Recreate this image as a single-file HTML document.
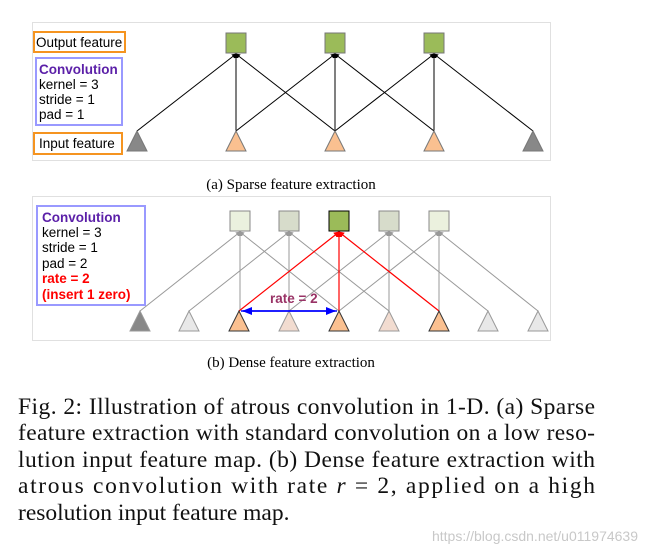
<!DOCTYPE html>
<html><head><style>
body{margin:0;background:#fff;}
svg{display:block;}
.s{font-family:"Liberation Sans",sans-serif;font-size:13.5px;}
.serif{font-family:"Liberation Serif",serif;}
</style></head><body>
<svg width="647" height="554" viewBox="0 0 647 554" xmlns="http://www.w3.org/2000/svg">
<defs>
<marker id="ak" markerWidth="5" markerHeight="5" refX="4" refY="2.5" orient="auto" markerUnits="userSpaceOnUse"><path d="M0,0 L5,2.5 L0,5 z" fill="#000"/></marker>
<marker id="ag" markerWidth="5" markerHeight="5" refX="4" refY="2.5" orient="auto" markerUnits="userSpaceOnUse"><path d="M0,0 L5,2.5 L0,5 z" fill="#999"/></marker>
<marker id="ar" markerWidth="6" markerHeight="6" refX="5" refY="3" orient="auto" markerUnits="userSpaceOnUse"><path d="M0,0 L6,3 L0,6 z" fill="#f00"/></marker>
<marker id="ab" markerWidth="10" markerHeight="8" refX="9" refY="4" orient="auto" markerUnits="userSpaceOnUse"><path d="M0,0 L10,4 L0,8 z" fill="#00f"/></marker>
</defs>
<rect x="32.5" y="22.5" width="518" height="138" fill="#fff" stroke="#e0e0e0"/>
<g stroke="#000" stroke-width="1" marker-end="url(#ak)">
<line x1="137" y1="131" x2="236" y2="54"/><line x1="236" y1="131" x2="236" y2="54"/><line x1="335" y1="131" x2="236" y2="54"/>
<line x1="236" y1="131" x2="335" y2="54"/><line x1="335" y1="131" x2="335" y2="54"/><line x1="434" y1="131" x2="335" y2="54"/>
<line x1="335" y1="131" x2="434" y2="54"/><line x1="434" y1="131" x2="434" y2="54"/><line x1="533" y1="131" x2="434" y2="54"/>
</g>
<g stroke="#777" fill="#9bbb59"><rect x="226" y="33" width="20" height="20"/><rect x="325" y="33" width="20" height="20"/><rect x="424" y="33" width="20" height="20"/></g>
<g stroke="#777">
<path d="M137,131 L127,151 L147,151 z" fill="#888"/>
<path d="M236,131 L226,151 L246,151 z" fill="#fac090"/>
<path d="M335,131 L325,151 L345,151 z" fill="#fac090"/>
<path d="M434,131 L424,151 L444,151 z" fill="#fac090"/>
<path d="M533,131 L523,151 L543,151 z" fill="#888"/>
</g>
<rect x="34" y="32" width="91" height="20" fill="#fff" stroke="#f59420" stroke-width="2"/>
<text x="36" y="47" class="s">Output feature</text>
<rect x="36" y="58" width="86" height="67" fill="#fff" stroke="#9999ff" stroke-width="2"/>
<text x="39" y="74" class="s" font-weight="bold" fill="#5b1fa8">Convolution</text>
<text x="39" y="89" class="s">kernel = 3</text>
<text x="39" y="104" class="s">stride = 1</text>
<text x="39" y="119" class="s">pad = 1</text>
<rect x="34" y="133" width="88" height="21" fill="#fff" stroke="#f59420" stroke-width="2"/>
<text x="39" y="148" class="s">Input feature</text>
<text x="291" y="189" class="serif" font-size="15" text-anchor="middle">(a) Sparse feature extraction</text>
<rect x="32.5" y="196.5" width="518" height="144" fill="#fff" stroke="#e0e0e0"/>
<g stroke="#999" stroke-width="1" marker-end="url(#ag)">
<line x1="140" y1="311" x2="240" y2="232"/><line x1="240" y1="311" x2="240" y2="232"/><line x1="339" y1="311" x2="240" y2="232"/>
<line x1="189" y1="311" x2="289" y2="232"/><line x1="289" y1="311" x2="289" y2="232"/><line x1="389" y1="311" x2="289" y2="232"/>
<line x1="289" y1="311" x2="389" y2="232"/><line x1="389" y1="311" x2="389" y2="232"/><line x1="488" y1="311" x2="389" y2="232"/>
<line x1="339" y1="311" x2="439" y2="232"/><line x1="439" y1="311" x2="439" y2="232"/><line x1="538" y1="311" x2="439" y2="232"/>
</g>
<g stroke="#f00" stroke-width="1.2" marker-end="url(#ar)">
<line x1="239" y1="311" x2="339" y2="232"/><line x1="339" y1="311" x2="339" y2="232"/><line x1="439" y1="311" x2="339" y2="232"/>
</g>
<g stroke="#888">
<rect x="230" y="211" width="20" height="20" fill="#ebf1de"/>
<rect x="279" y="211" width="20" height="20" fill="#d7dccb"/>
<rect x="329" y="211" width="20" height="20" fill="#9bbb59" stroke="#000"/>
<rect x="379" y="211" width="20" height="20" fill="#d7dccb"/>
<rect x="429" y="211" width="20" height="20" fill="#ebf1de"/>
</g>
<g stroke="#999">
<path d="M140,311 L130,331 L150,331 z" fill="#888"/>
<path d="M189,311 L179,331 L199,331 z" fill="#e8e8e8"/>
<path d="M239,311 L229,331 L249,331 z" fill="#fac090" stroke="#333"/>
<path d="M289,311 L279,331 L299,331 z" fill="#f2dcd0"/>
<path d="M339,311 L329,331 L349,331 z" fill="#fac090" stroke="#333"/>
<path d="M389,311 L379,331 L399,331 z" fill="#f2dcd0"/>
<path d="M439,311 L429,331 L449,331 z" fill="#fac090" stroke="#333"/>
<path d="M488,311 L478,331 L498,331 z" fill="#e8e8e8"/>
<path d="M538,311 L528,331 L548,331 z" fill="#e8e8e8"/>
</g>
<line x1="337" y1="311" x2="243" y2="311" stroke="#00f" stroke-width="1.5" marker-end="url(#ab)"/>
<line x1="241" y1="311" x2="335" y2="311" stroke="#00f" stroke-width="1.5" marker-end="url(#ab)"/>
<text x="270" y="303" class="s" font-size="16" font-weight="bold" fill="#993366">rate = 2</text>
<rect x="37" y="206" width="108" height="99" fill="#fff" stroke="#9999ff" stroke-width="2"/>
<text x="42" y="222" class="s" font-weight="bold" fill="#5b1fa8">Convolution</text>
<text x="42" y="237" class="s">kernel = 3</text>
<text x="42" y="252" class="s">stride = 1</text>
<text x="42" y="268" class="s">pad = 2</text>
<text x="42" y="283" class="s" font-weight="bold" fill="#f00">rate = 2</text>
<text x="42" y="299" class="s" font-weight="bold" fill="#f00">(insert 1 zero)</text>
<text x="291" y="367" class="serif" font-size="15" text-anchor="middle">(b) Dense feature extraction</text>
<g class="serif" font-size="23.5" fill="#111">
<text x="18" y="414" textLength="577" lengthAdjust="spacing">Fig. 2: Illustration of atrous convolution in 1-D. (a) Sparse</text>
<text x="18" y="440" textLength="577" lengthAdjust="spacing">feature extraction with standard convolution on a low reso-</text>
<text x="18" y="467" textLength="577" lengthAdjust="spacing">lution input feature map. (b) Dense feature extraction with</text>
<text x="18" y="493" textLength="577" lengthAdjust="spacing">atrous convolution with rate <tspan font-style="italic">r</tspan> = 2, applied on a high</text>
<text x="18" y="520">resolution input feature map.</text>
</g>
<text x="638" y="541" font-family="Liberation Sans,sans-serif" font-size="14" fill="#c8c8c8" text-anchor="end">https://blog.csdn.net/u011974639</text>
</svg>
</body></html>
